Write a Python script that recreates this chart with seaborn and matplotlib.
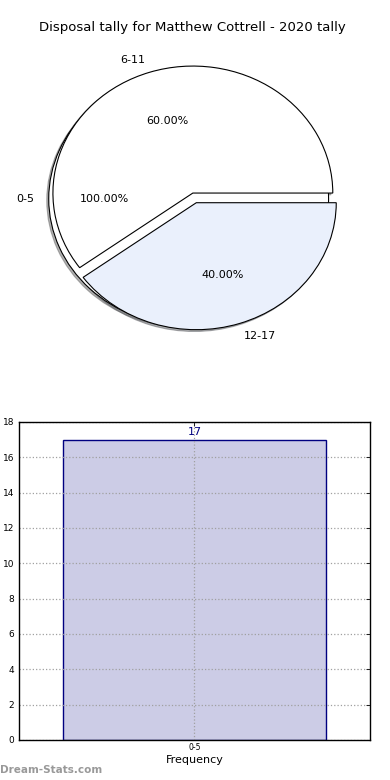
import matplotlib
matplotlib.use("Agg")
import matplotlib.pyplot as plt
import seaborn as sns
import pandas as pd

# pie data (as drawn on the site: a full 0-5 disc under the 6-11 / 12-17 split)
full_labels = ["0-5"]
full_values = [17]
split_labels = ["6-11", "12-17"]
split_values = [3, 2]
split_colors = ["#ffffff", "#eaf0fc"]

# bar data
bar_cats = ["0-5"]
bar_counts = [17]

title = "Disposal tally for Matthew Cottrell - 2020 tally"

sns.set_style("white")
plt.rcParams["font.family"] = ["DejaVu Sans"]
plt.rcParams["text.color"] = "black"
plt.rcParams["axes.labelcolor"] = "black"
plt.rcParams["xtick.color"] = "black"
plt.rcParams["ytick.color"] = "black"

fig = plt.figure(figsize=(3.9, 7.8), dpi=100)

# pie
ax1 = fig.add_axes([0.046, 0.549, 0.897, 0.407])
wp = {"edgecolor": "black", "linewidth": 0.8}
shd = {"ox": -0.01, "oy": -0.01, "shade": 0.6}
ax1.pie(full_values, labels=full_labels, autopct="%1.2f%%", colors=["#ffffff"],
        shadow=shd, center=(-0.03, -0.045), wedgeprops=wp,
        textprops={"fontsize": 8})
ax1.pie(split_values, labels=split_labels, autopct="%1.2f%%", colors=split_colors,
        explode=[0, 0.08], shadow=shd, wedgeprops=wp,
        textprops={"fontsize": 8})
ax1.set_aspect("auto")
ax1.set_xlim(-1.25, 1.25)
ax1.set_ylim(-1.25, 1.25)
ax1.set_title(title, fontsize=9.5, pad=1)

# bar
ax2 = fig.add_axes([0.0487, 0.0513, 0.9, 0.4077])
df = pd.DataFrame({"cat": bar_cats, "count": bar_counts})
sns.barplot(data=df, x="cat", y="count", ax=ax2, width=0.8,
            color=(0.8, 0.8, 0.9), edgecolor="navy", linewidth=1, saturation=1)
for p, v in zip(ax2.patches, bar_counts):
    ax2.text(p.get_x() + p.get_width() / 2, v + 0.15, str(v), ha="center",
             va="bottom", color="navy", fontsize=8)
ax2.set_xlim(-0.532, 0.532)
ax2.set_ylim(0, 18)
ax2.set_yticks(range(0, 19, 2))
ax2.grid(True, linestyle=":", color="#a0a0a0", linewidth=0.9)
ax2.set_axisbelow(False)
for s in ax2.spines.values():
    s.set_color("black")
    s.set_linewidth(1)
    s.set_zorder(5)
ax2.tick_params(direction="in", length=3, labelsize=6.5, right=True, top=True,
                width=0.6)
ax2.tick_params(axis="x", labelsize=5.5, pad=2)
ax2.set_xlabel("Frequency", fontsize=8, labelpad=2)
ax2.set_ylabel("Disposal Tally", fontsize=8)
ax2.yaxis.set_label_coords(-0.052, 0.5)

fig.text(0.0, 0.013, "Dream-Stats.com", color="#999999", fontsize=7.5,
         fontweight="bold", ha="left", va="center")

fig.savefig("out.png", dpi=100)
